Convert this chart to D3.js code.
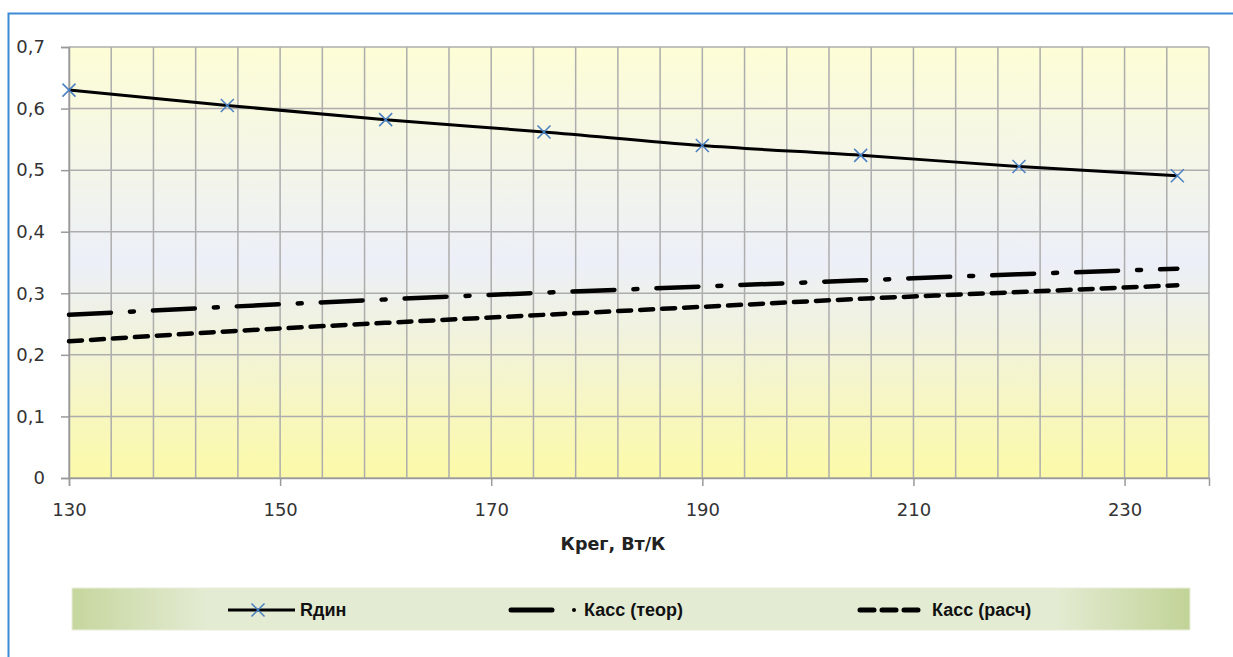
<!DOCTYPE html>
<html>
<head>
<meta charset="utf-8">
<script src="https://cdn.jsdelivr.net/npm/d3@7"></script>
<style>
  body { margin: 0; background: #fff; }
  svg { display: block; }
</style>
</head>
<body>
<script>
const kreg = [130, 145, 160, 175, 190, 205, 220, 235];
const rDin = [0.63, 0.605, 0.582, 0.562, 0.54, 0.524, 0.506, 0.491];
const kassTeor = [0.265, 0.278, 0.29, 0.301, 0.311, 0.321, 0.331, 0.34];
const kassRasch = [0.222, 0.238, 0.252, 0.265, 0.278, 0.291, 0.302, 0.313];
const xTicks = [130, 150, 170, 190, 210, 230];
const yTicks = [0, 0.1, 0.2, 0.3, 0.4, 0.5, 0.6, 0.7];
const seriesNames = ["Rдин", "Касс (теор)", "Касс (расч)"];

const width = 1233;
const height = 657;
const plot = { left: 69, right: 1209, top: 47, bottom: 478 };

const svg = d3
  .select("body")
  .append("svg")
  .attr("width", width)
  .attr("height", height);

const defs = svg.append("defs");

const bgGrad = defs
  .append("linearGradient")
  .attr("id", "bg")
  .attr("x1", 0)
  .attr("y1", 0)
  .attr("x2", 0)
  .attr("y2", 1);
bgGrad.append("stop").attr("offset", "0%").attr("stop-color", "#fdfdd6");
bgGrad.append("stop").attr("offset", "50%").attr("stop-color", "#eceff8");
bgGrad.append("stop").attr("offset", "100%").attr("stop-color", "#fcfaa8");

const legGrad = defs
  .append("linearGradient")
  .attr("id", "leg")
  .attr("x1", 0)
  .attr("y1", 0)
  .attr("x2", 1)
  .attr("y2", 0);
legGrad.append("stop").attr("offset", "0%").attr("stop-color", "#c6d69e");
legGrad.append("stop").attr("offset", "12%").attr("stop-color", "#e3ebd2");
legGrad.append("stop").attr("offset", "88%").attr("stop-color", "#e3ebd2");
legGrad.append("stop").attr("offset", "100%").attr("stop-color", "#c2d397");

// outer frame
svg
  .append("rect")
  .attr("x", 8.5)
  .attr("y", 13.5)
  .attr("width", width + 20)
  .attr("height", height + 20)
  .attr("fill", "none")
  .attr("stroke", "#3d8bd4")
  .attr("stroke-width", 2);

const xScale = d3.scaleLinear().domain([130, 238]).range([plot.left, plot.right]);
const yScale = d3.scaleLinear().domain([0, 0.7]).range([plot.bottom, plot.top]);

svg
  .append("rect")
  .attr("x", plot.left)
  .attr("y", plot.top)
  .attr("width", plot.right - plot.left)
  .attr("height", plot.bottom - plot.top)
  .attr("fill", "url(#bg)");

const grid = svg.append("g").attr("stroke", "#adadad").attr("stroke-width", 1.5);

grid
  .selectAll("line.v")
  .data(d3.range(130, 239, 4))
  .enter()
  .append("line")
  .attr("x1", (d) => xScale(d))
  .attr("x2", (d) => xScale(d))
  .attr("y1", plot.top)
  .attr("y2", plot.bottom);

grid
  .selectAll("line.h")
  .data(yTicks)
  .enter()
  .append("line")
  .attr("x1", plot.left)
  .attr("x2", plot.right)
  .attr("y1", (d) => yScale(d))
  .attr("y2", (d) => yScale(d));

const fmt = (d) => String(d3.format(".1~f")(d)).replace(".", ",");

const xAxis = svg
  .append("g")
  .attr("transform", `translate(0 ${plot.bottom})`)
  .call(d3.axisBottom(xScale).tickValues(xTicks).tickSize(8).tickPadding(17));

const yAxis = svg
  .append("g")
  .attr("transform", `translate(${plot.left} 0)`)
  .call(d3.axisLeft(yScale).tickValues(yTicks).tickFormat(fmt).tickSize(8).tickPadding(16));

for (const ax of [xAxis, yAxis]) {
  ax.select(".domain").attr("stroke", "#9a9a9a").attr("stroke-width", 1.5);
  ax.selectAll(".tick line").attr("stroke", "#9a9a9a").attr("stroke-width", 1.5);
  ax.selectAll(".tick text")
    .attr("font-family", "DejaVu Sans, sans-serif")
    .attr("font-size", 18)
    .attr("fill", "#333");
}

svg
  .append("text")
  .attr("x", 613)
  .attr("y", 550)
  .attr("text-anchor", "middle")
  .attr("font-family", "DejaVu Sans, sans-serif")
  .attr("font-weight", "bold")
  .attr("font-size", 17.5)
  .attr("fill", "#222")
  .text("Крег, Вт/К");

const line = (vals) =>
  d3
    .line()
    .x((_, i) => xScale(kreg[i]))
    .y((d) => yScale(d))
    .curve(d3.curveMonotoneX)(vals);

const styles = [
  { stroke: 3, dash: null },
  { stroke: 4.5, dash: "42 19 4 19" },
  { stroke: 4.5, dash: "13 9" },
];

const series = [rDin, kassTeor, kassRasch];

svg
  .append("g")
  .selectAll("path")
  .data(series)
  .enter()
  .append("path")
  .attr("d", (d) => line(d))
  .attr("fill", "none")
  .attr("stroke", "#000")
  .attr("stroke-width", (_, i) => styles[i].stroke)
  .attr("stroke-dasharray", (_, i) => styles[i].dash)
  .attr("stroke-linecap", (_, i) => (i === 0 ? "butt" : "round"));

const cross = (x, y, r) => `M${x - r} ${y - r} L${x + r} ${y + r} M${x - r} ${y + r} L${x + r} ${y - r}`;

svg
  .append("g")
  .selectAll("path")
  .data(rDin)
  .enter()
  .append("path")
  .attr("d", (d, i) => cross(xScale(kreg[i]), yScale(d), 6.5))
  .attr("stroke", "#4a7fc1")
  .attr("stroke-width", 1.5)
  .attr("fill", "none");

// legend
const legend = svg.append("g");
legend
  .append("rect")
  .attr("x", 72)
  .attr("y", 588)
  .attr("width", 1118)
  .attr("height", 42)
  .attr("fill", "url(#leg)")
  .attr("stroke", "#e9eedc")
  .attr("stroke-width", 1);

const legendItems = [
  { x: 228, len: 67, textX: 300 },
  { x: 509, len: 45, textX: 584 },
  { x: 858, len: 61, textX: 932 },
];

const legY = 610;

legendItems.forEach((it, i) => {
  const g = legend.append("g");
  if (i === 0) {
    g.append("line")
      .attr("x1", it.x).attr("x2", it.x + it.len)
      .attr("y1", legY).attr("y2", legY)
      .attr("stroke", "#000").attr("stroke-width", 3);
    g.append("path")
      .attr("d", cross(it.x + 30, legY, 6.5))
      .attr("stroke", "#4a7fc1").attr("stroke-width", 1.5);
  } else if (i === 1) {
    g.append("line")
      .attr("x1", it.x + 2).attr("x2", it.x + it.len - 2)
      .attr("y1", legY).attr("y2", legY)
      .attr("stroke", "#000").attr("stroke-width", 5).attr("stroke-linecap", "round");
    g.append("circle").attr("cx", it.x + 65).attr("cy", legY).attr("r", 2).attr("fill", "#000");
  } else {
    g.append("line")
      .attr("x1", it.x + 2).attr("x2", it.x + it.len)
      .attr("y1", legY).attr("y2", legY)
      .attr("stroke", "#000").attr("stroke-width", 5)
      .attr("stroke-dasharray", "14 8").attr("stroke-linecap", "round");
  }
  g.append("text")
    .attr("x", it.textX)
    .attr("y", legY)
    .attr("dominant-baseline", "central")
    .attr("font-family", "Liberation Sans, Arial, sans-serif")
    .attr("font-weight", "bold")
    .attr("font-size", 18)
    .attr("fill", "#111")
    .text(seriesNames[i]);
});
</script>
</body>
</html>
